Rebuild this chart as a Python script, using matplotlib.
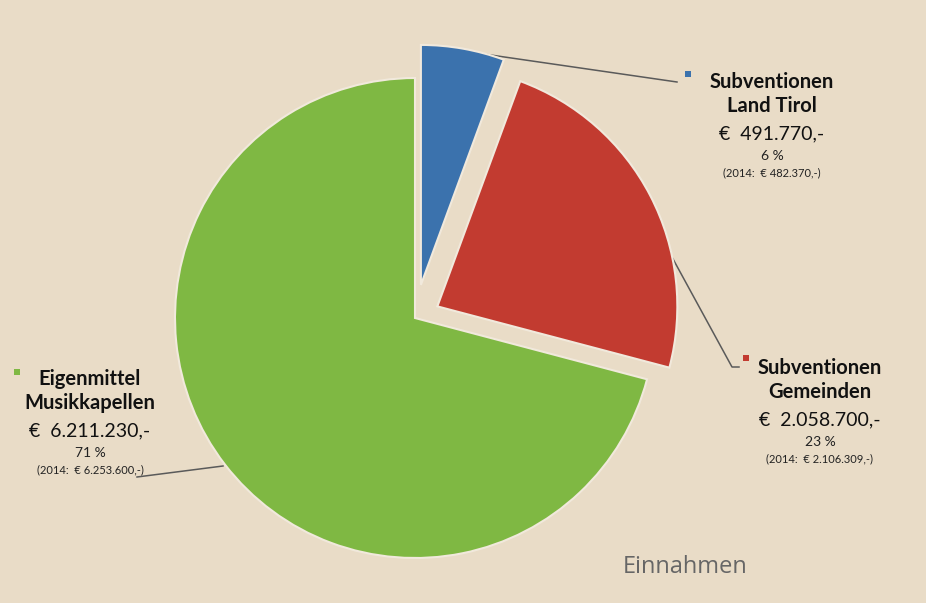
import matplotlib
matplotlib.use('Agg')
import matplotlib.pyplot as plt

# DATA
names = ['Eigenmittel\nMusikkapellen', 'Subventionen\nGemeinden', 'Subventionen\nLand Tirol']
values = [6211230, 2058700, 491770]
amounts = ['€  6.211.230,-', '€  2.058.700,-', '€  491.770,-']
percents = ['71 %', '23 %', '6 %']
prev_year = ['(2014:  € 6.253.600,-)', '(2014:  € 2.106.309,-)', '(2014:  € 482.370,-)']
colors = ['#7fb843', '#c23b30', '#3b72ad']
explode = [0, 0.105, 0.14]

BG = '#e9dcc7'
W, H = 926, 603


def Y(y):
    # image pixel row -> data y
    return H - y


fig = plt.figure(figsize=(W / 100, H / 100), dpi=100, facecolor=BG)
ax = fig.add_axes([0, 0, 1, 1])
ax.set_facecolor(BG)

R = 240
# pie's explode is in data units, not radius fractions
wedges, _ = ax.pie(values, colors=colors, startangle=90, counterclock=True,
                   explode=[e * R for e in explode], center=(415, Y(318)),
                   radius=R, frame=True,
                   wedgeprops=dict(linewidth=1.5, edgecolor='#f1e9dc'))
ax.set_xlim(0, W)
ax.set_ylim(0, H)
ax.set_aspect('equal')
ax.axis('off')

# leader lines (under the slices)
line_kw = dict(color='#5a5a5a', lw=1.1, zorder=0.5)
ax.plot([463, 677], [Y(51), Y(82)], **line_kw)
ax.plot([655, 732, 739], [Y(226), Y(367), Y(367)], **line_kw)
ax.plot([137, 223], [Y(477), Y(466)], **line_kw)

# labels: (center x, top row y, marker x, marker y)
label_pos = [(90, 379, 17, 372), (820, 368, 746, 358), (772, 82, 688, 74)]
for i, (cx, y0, mx, my) in enumerate(label_pos):
    ax.text(cx, Y(y0 + 12), names[i], ha='center', va='center',
            fontfamily='Lato', fontweight='bold', fontsize=14.5,
            color='#111111', linespacing=1.2)
    ax.text(cx, Y(y0 + 52), amounts[i], ha='center', va='center',
            fontfamily='Lato', fontsize=14, color='#111111')
    ax.text(cx, Y(y0 + 74), percents[i], ha='center', va='center',
            fontfamily='Lato', fontsize=10, color='#222222')
    ax.text(cx, Y(y0 + 91), prev_year[i], ha='center', va='center',
            fontfamily='Lato', fontsize=8, color='#222222')
    ax.scatter([mx], [Y(my)], marker='s', s=22, color=colors[i],
               edgecolors='none', zorder=5)

ax.text(685, Y(567), 'Einnahmen', ha='center', va='center',
        fontfamily='Open Sans', fontsize=17, color='#666666')

fig.savefig('out.png', dpi=100, facecolor=BG)
